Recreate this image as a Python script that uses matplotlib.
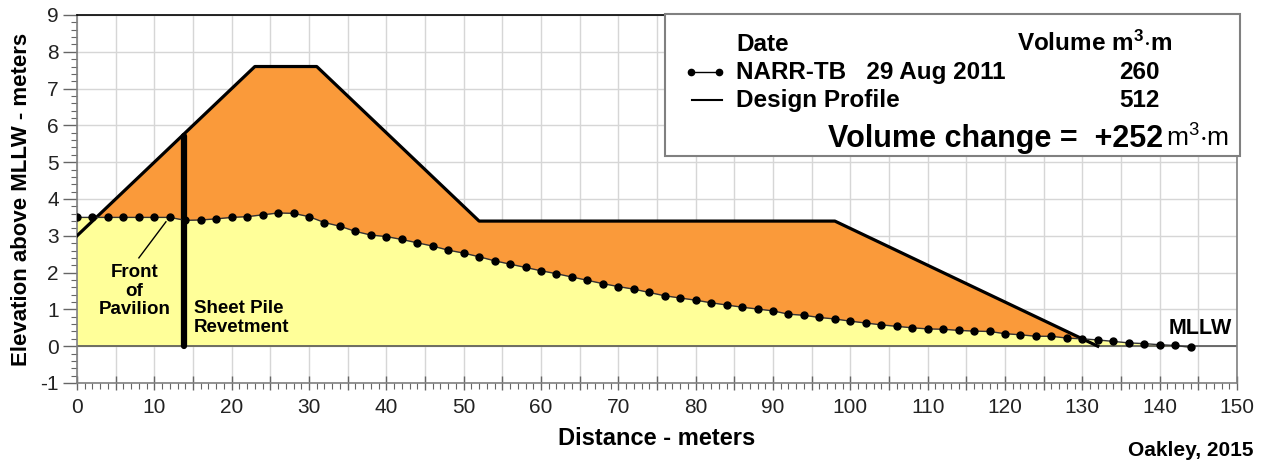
import numpy as np
import matplotlib
matplotlib.use("Agg")
import matplotlib.pyplot as plt
from matplotlib.lines import Line2D
from matplotlib.patches import Rectangle
from matplotlib.ticker import MultipleLocator, FuncFormatter

plt.rcParams['font.family'] = ['Liberation Sans', 'DejaVu Sans']
plt.rcParams['mathtext.fontset'] = 'custom'
plt.rcParams['mathtext.rm'] = 'Liberation Sans'
plt.rcParams['mathtext.default'] = 'regular'
plt.rcParams['axes.unicode_minus'] = False

# design template (m, m above MLLW)
design_x = [0, 23, 31, 52, 98, 132]
design_y = [3.0, 7.6, 7.6, 3.4, 3.4, 0.0]

# NARR-TB survey, 29 Aug 2011
survey_x = [0, 2, 4, 6, 8, 10, 12, 14, 16, 18, 20, 22, 24, 26, 28, 30,
            32, 34, 36, 38, 40, 42, 44, 46, 48, 50, 52, 54, 56, 58, 60,
            62, 64, 66, 68, 70, 72, 74, 76, 78, 80, 82, 84, 86, 88, 90,
            92, 94, 96, 98, 100, 102, 104, 106, 108, 110, 112, 114, 116,
            118, 120, 122, 124, 126, 128, 130, 132, 134, 136, 138, 140,
            142, 144]
survey_y = [3.50, 3.50, 3.50, 3.50, 3.50, 3.50, 3.50, 3.42, 3.43, 3.46,
            3.50, 3.52, 3.57, 3.62, 3.61, 3.52, 3.36, 3.26, 3.12, 3.02,
            2.98, 2.90, 2.81, 2.72, 2.61, 2.53, 2.43, 2.32, 2.23, 2.14,
            2.05, 1.97, 1.88, 1.79, 1.70, 1.62, 1.55, 1.46, 1.37, 1.31,
            1.25, 1.18, 1.12, 1.06, 1.01, 0.96, 0.87, 0.84, 0.78, 0.74,
            0.68, 0.63, 0.58, 0.54, 0.50, 0.47, 0.46, 0.43, 0.41, 0.40,
            0.34, 0.31, 0.27, 0.27, 0.22, 0.20, 0.17, 0.13, 0.09, 0.07,
            0.04, 0.02, -0.03]

pile_x = 13.8
pile_top = 5.7

survey_label = "NARR-TB   29 Aug 2011"
design_label = "Design Profile"
survey_vol = 260
design_vol = 512

W, H = 1263, 463
def fx(x):
    return x / W
def fy(y):
    return 1 - y / H

fig = plt.figure(figsize=(W / 100, H / 100), dpi=100)
ax = fig.add_axes([77 / W, 1 - 383 / H, 1160 / W, 368 / H])

orange = '#FA9A3A'
yellow = '#FFFF99'

sx = np.array(survey_x, dtype=float)
sy = np.array(survey_y, dtype=float)
xf = np.union1d(np.array(design_x, dtype=float), sx)
xf = xf[xf <= design_x[-1]]
d = np.interp(xf, design_x, design_y)
s = np.interp(xf, sx, sy)

ax.fill_between(sx, 0, sy, color=yellow, lw=0, zorder=1)
ax.fill_between(xf, s, d, where=d > s, interpolate=True, color=orange, lw=0, zorder=1.1)

ax.axhline(0, color='#555555', lw=1.2, zorder=1.5)
ax.plot(design_x, design_y, color='k', lw=2.3, zorder=3)
ax.plot([pile_x, pile_x], [0, pile_top], color='k', lw=4.5,
        solid_capstyle='round', zorder=3.5)
ax.plot(sx, sy, color='#333333', lw=1, marker='o', ms=5,
        mfc='k', mec='k', zorder=4)

# annotations
ax.plot([8.0, 11.5], [2.4, 3.38], color='k', lw=1, zorder=4)
ax.text(7.4, 1.5, "Front\nof\nPavilion", ha='center', va='center',
        fontsize=13.5, fontweight='bold', linespacing=1.1, zorder=5)
ax.text(15.1, 0.77, "Sheet Pile\nRevetment", ha='left', va='center',
        fontsize=13.5, fontweight='bold', linespacing=1.1, zorder=5)
ax.text(149.3, 0.47, "MLLW", ha='right', va='center',
        fontsize=15.5, fontweight='bold', zorder=5)

ax.set_xlim(0, 150)
ax.set_ylim(-1, 9)
ax.xaxis.set_major_locator(MultipleLocator(5))
ax.xaxis.set_minor_locator(MultipleLocator(1))
ax.xaxis.set_major_formatter(FuncFormatter(
    lambda v, p: str(int(round(v))) if int(round(v)) % 10 == 0 else ''))
ax.yaxis.set_major_locator(MultipleLocator(1))
ax.yaxis.set_minor_locator(MultipleLocator(0.2))

ax.grid(True, which='major', color='#D6D6D6', lw=1)
ax.set_axisbelow(True)

ax.tick_params(axis='x', which='major', direction='inout', length=10, width=1,
               color='#666666', labelsize=15, pad=6, labelcolor='#222222')
ax.tick_params(axis='x', which='minor', direction='out', length=4, width=0.8,
               color='#666666')
ax.tick_params(axis='y', which='major', direction='out', length=10, width=1,
               color='#666666', labelsize=15, pad=3, labelcolor='#222222')
ax.tick_params(axis='y', which='minor', direction='out', length=4, width=0.8,
               color='#666666')

for side in ['left', 'bottom', 'right']:
    ax.spines[side].set_color('#808080')
    ax.spines[side].set_linewidth(1.2)
ax.spines['top'].set_color('k')
ax.spines['top'].set_linewidth(1.2)

ax.set_ylabel("Elevation above MLLW - meters", fontsize=16, fontweight='bold')
ax.yaxis.set_label_coords(-0.039, 0.5)
ax.set_xlabel("Distance - meters", fontsize=17, fontweight='bold')
ax.xaxis.set_label_coords(0.5, -0.12)

fig.text(fx(1253), fy(451), "Oakley, 2015", ha='right', va='center',
         fontsize=15, fontweight='bold')

# legend box
box = Rectangle((fx(665), fy(156)), fx(1240) - fx(665), fy(14) - fy(156),
                transform=fig.transFigure, facecolor='white',
                edgecolor='#808080', lw=1.5, zorder=5)
fig.add_artist(box)

fs = 17.5
fig.text(fx(736), fy(51), "Date", ha='left', va='baseline',
         fontsize=fs, fontweight='bold', zorder=6)
fig.text(fx(1172), fy(51), r"Volume m$^{3}$$\cdot$m", ha='right', va='baseline',
         fontsize=fs, fontweight='bold', zorder=6)

fig.add_artist(Line2D([fx(691), fx(719)], [fy(72), fy(72)],
                      transform=fig.transFigure, color='k', lw=1,
                      marker='o', ms=4.5, zorder=6))
fig.text(fx(736), fy(79), survey_label, ha='left', va='baseline',
         fontsize=fs, fontweight='bold', zorder=6)
fig.text(fx(1139), fy(79), str(survey_vol), ha='center', va='baseline',
         fontsize=fs, fontweight='bold', zorder=6)

fig.add_artist(Line2D([fx(692), fx(722)], [fy(100), fy(100)],
                      transform=fig.transFigure, color='k', lw=1.5, zorder=6))
fig.text(fx(736), fy(107), design_label, ha='left', va='baseline',
         fontsize=fs, fontweight='bold', zorder=6)
fig.text(fx(1139), fy(107), str(design_vol), ha='center', va='baseline',
         fontsize=fs, fontweight='bold', zorder=6)

change = design_vol - survey_vol
fig.text(fx(1163), fy(147), "Volume change =  +{}".format(change),
         ha='right', va='baseline', fontsize=22, fontweight='bold', zorder=6)
fig.text(fx(1166), fy(147), r"m$^{3}$$\cdot$m", ha='left', va='baseline',
         fontsize=19, zorder=6)

fig.savefig("out.png", dpi=100)
